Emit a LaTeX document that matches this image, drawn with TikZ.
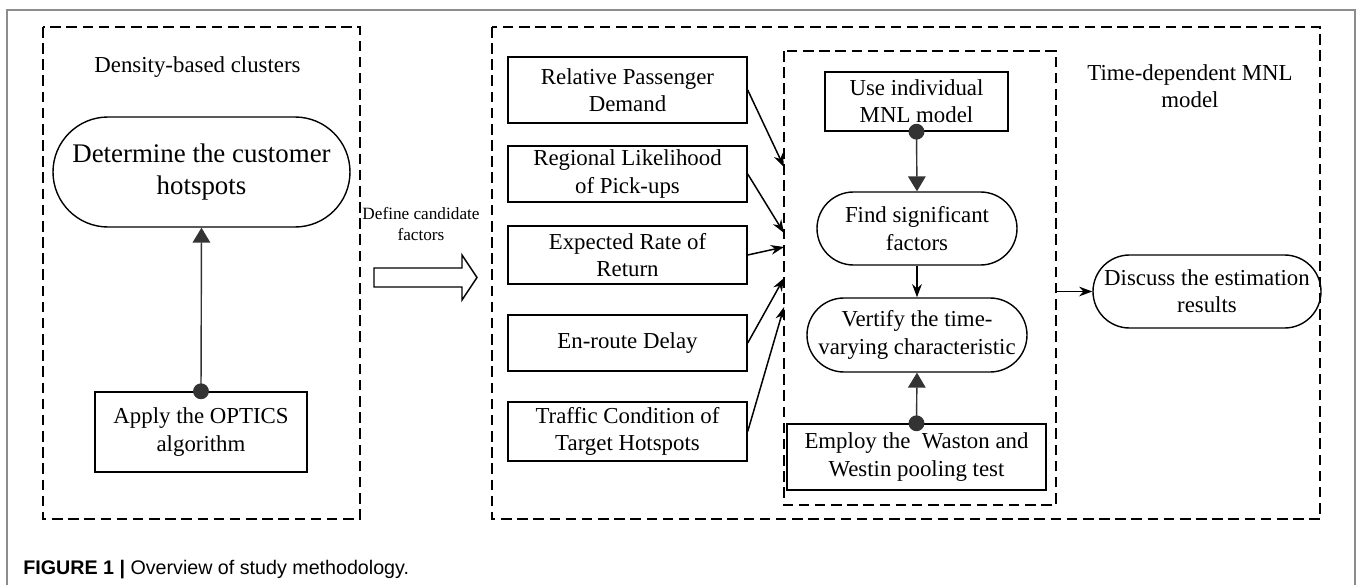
\documentclass[tikz,border=0pt]{standalone}
\usepackage{fontspec}
\setmainfont{Liberation Serif}
\setsansfont{Liberation Sans}
\usetikzlibrary{arrows.meta, positioning}

% one pixel of the reference
\def\pxu{0.02cm}

\tikzset{
    dashbox/.style={line width=0.9pt, dash pattern=on 6pt off 3.2pt},
    plainbox/.style={draw, line width=0.8pt, align=center, inner sep=0pt},
    roundbox/.style={draw, line width=0.8pt, align=center, inner sep=0pt},
    factorbox/.style={plainbox, minimum width=239*\pxu},
    dotarrow/.style={line width=0.8pt, draw=black!80, shorten <=-4.5pt,
        {Circle[length=9pt, fill=black!80]}-{Triangle[length=8.5pt, width=10pt, fill=black!80]}},
    thinarrow/.style={line width=0.85pt, -{Stealth[length=7.5pt, width=5.5pt]}}
}

\begin{document}
\begin{tikzpicture}[x=\pxu, y=-\pxu, font=\fontsize{13}{15.5}\selectfont]
    % Page size of the reference
    \useasboundingbox (0,0) rectangle (1357,585);

    % Frame of the figure
    \draw[black!45, line width=0.8pt] (7,585) -- (7,10) -- (1355,10) -- (1355,585);

    % Density-based clusters
    \draw[dashbox] (43,27) rectangle (360,519);
    \node (dens) at (197.5,67) {Density-based clusters};
    \node[roundbox, minimum width=297*\pxu, minimum height=110*\pxu, rounded corners=55*\pxu,
          font=\fontsize{15.3}{18.7}\selectfont] (hot) at (201.5,172) {Determine the customer\\hotspots};
    \node[plainbox, minimum width=212*\pxu, minimum height=80*\pxu] (optics) at (201,432) {Apply the OPTICS\\algorithm};
    \draw[dotarrow] (optics.north) -- (hot.south);

    % Define candidate factors
    \node[align=center, font=\fontsize{9.8}{12.5}\selectfont] (define) at (421,224) {Define candidate\\factors};
    \draw[line width=0.8pt] (374,268) -- (462,268) -- (462,255) -- (477,277.5)
        -- (462,300) -- (462,287) -- (374,287) -- cycle;

    % Time-dependent MNL model
    \draw[dashbox] (492,27) rectangle (1320,519);
    \draw[dashbox] (784,51) rectangle (1056,505);

    \foreach \nm/\yc/\bh/\yend/\txt in {
        f1/90/66/167/{Relative Passenger\\Demand},
        f2/174/56/233/{Regional Likelihood\\of Pick-ups},
        f3/255/58/247/{Expected Rate of\\Return},
        f4/343/56/278/{En-route Delay},
        f5/431.5/59/307/{Traffic Condition of\\Target Hotspots}} {
        \node[factorbox, minimum height=\bh*\pxu] (\nm) at (627.5,\yc) {\txt};
        \coordinate (\nm-in) at (784,\yend);
        \draw[thinarrow] (\nm.east) -- (\nm-in);
    }

    \node[plainbox, minimum width=183*\pxu, minimum height=59*\pxu] (mnl) at (916.5,101.5) {Use individual\\MNL model};
    \node[roundbox, minimum width=200*\pxu, minimum height=73*\pxu, rounded corners=36.5*\pxu] (sig) at (917,228.5) {Find significant\\factors};
    \node[roundbox, minimum width=220*\pxu, minimum height=74*\pxu, rounded corners=37*\pxu] (vary) at (917,335) {Vertify the time-\\varying characteristic};
    \node[plainbox, minimum width=259*\pxu, minimum height=66*\pxu] (pool) at (916.5,457) {Employ the~ Waston and\\Westin pooling test};

    \draw[dotarrow] (mnl.south) -- (sig.north);
    \draw[thinarrow] (sig.south) -- (vary.north);
    \draw[dotarrow] (pool.north) -- (vary.south);

    \node[align=center] (timedep) at (1190,86) {Time-dependent MNL\\model};
    \node[roundbox, minimum width=228*\pxu, minimum height=73*\pxu, rounded corners=36.5*\pxu] (disc) at (1207,291.5) {Discuss the estimation\\results};
    \coordinate (inner-out) at (1056,291.5);
    \draw[thinarrow] (inner-out) -- (disc.west);

    % Caption
    \node[anchor=west, inner sep=0pt, font=\sffamily\fontsize{11.2}{13}\selectfont] (caption) at (23,570)
        {\textbf{FIGURE 1 |} Overview of study methodology.};
\end{tikzpicture}
\end{document}
